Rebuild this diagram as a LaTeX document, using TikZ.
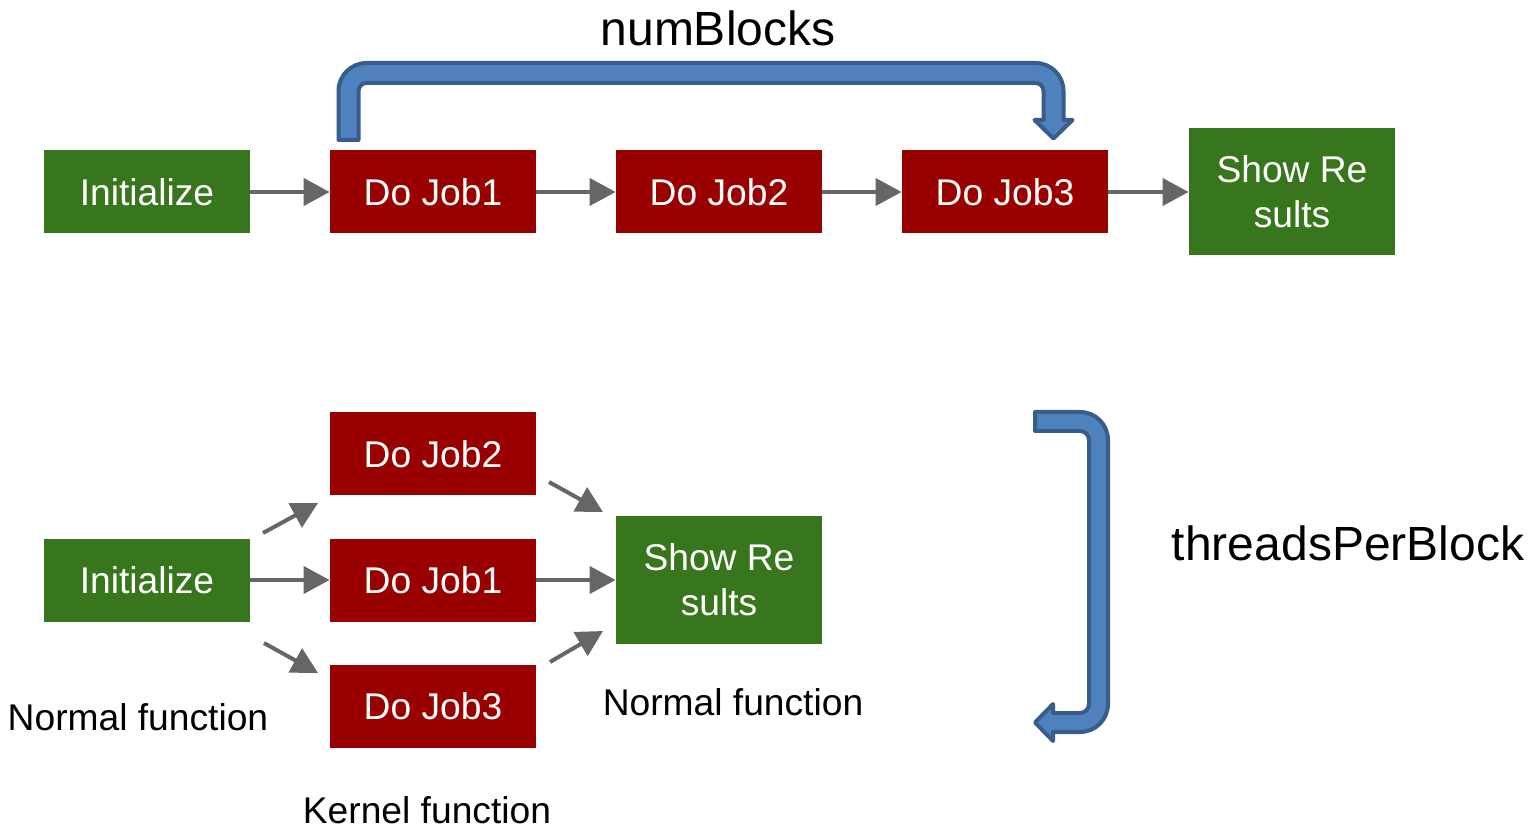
\documentclass[tikz,border=0pt]{standalone}
\usepackage{fontspec}
\setmainfont{Liberation Sans}
\usetikzlibrary{arrows.meta}
\definecolor{boxred}{RGB}{153,0,0}
\definecolor{boxgreen}{RGB}{56,118,29}
\definecolor{arrgray}{RGB}{102,102,102}
\definecolor{bfill}{RGB}{79,129,189}
\definecolor{bline}{RGB}{56,93,138}
\tikzset{
  base/.style={inner sep=0pt, text=white, font=\fontsize{18.6}{22.5}\selectfont, align=center, minimum width=103pt},
  redbox/.style={base, fill=boxred, minimum height=41.5pt},
  greenbox/.style={base, fill=boxgreen, minimum height=41.5pt},
  greentall/.style={base, fill=boxgreen, minimum height=63.5pt},
  flow/.style={draw=arrgray, line width=2pt, -{Triangle[length=13pt,width=13.5pt]}},
  bent/.style={fill=bfill, draw=bline, line width=2pt, line join=round},
  lbl/.style={inner sep=0pt, font=\fontsize{18.6}{22}\selectfont},
  biglbl/.style={inner sep=0pt, font=\fontsize{24}{28}\selectfont}
}
\begin{document}
\begin{tikzpicture}[x=0.5pt,y=0.5pt]
\useasboundingbox (0,0) rectangle (1537,-828);
% top row
\node[greenbox] (ini1) at (147,-192) {Initialize};
\node[redbox] (ja1) at (433,-192) {Do Job1};
\node[redbox] (ja2) at (719,-192) {Do Job2};
\node[redbox] (ja3) at (1005,-192) {Do Job3};
\node[greentall] (res1) at (1292,-192) {Show Re\\sults};
\draw[flow] (ini1.east) -- (ja1.west);
\draw[flow] (ja1.east) -- (ja2.west);
\draw[flow] (ja2.east) -- (ja3.west);
\draw[flow] (ja3.east) -- (res1.west);
% top bent arrow
\draw[bent] (338.5,-140) -- (338.5,-91) arc(180:90:28) -- (1035.5,-63) arc(90:0:28)
  -- (1063.5,-120) -- (1072.5,-120) -- (1053.5,-138.5) -- (1034.5,-120) -- (1043.5,-120)
  -- (1043.5,-91) arc(0:90:8) -- (366.5,-83) arc(90:180:8) -- (358.5,-140) -- cycle;
\node[biglbl] (nb) at (718,-28) {numBlocks};
% bottom
\node[greenbox] (ini2) at (147,-580) {Initialize};
\node[redbox] (jb2) at (433,-454) {Do Job2};
\node[redbox] (jb1) at (433,-580) {Do Job1};
\node[redbox] (jb3) at (433,-706) {Do Job3};
\node[greentall] (res2) at (719,-580) {Show Re\\sults};
\draw[flow] (ini2.east) -- (jb1.west);
\draw[flow] (jb1.east) -- (res2.west);
\coordinate (d1a) at (263,-533); \coordinate (d1b) at (318,-503);
\coordinate (d2a) at (264,-643); \coordinate (d2b) at (318,-673);
\coordinate (d3a) at (549,-482); \coordinate (d3b) at (603,-512);
\coordinate (d4a) at (550,-662); \coordinate (d4b) at (603,-631);
\draw[flow] (d1a) -- (d1b);
\draw[flow] (d2a) -- (d2b);
\draw[flow] (d3a) -- (d3b);
\draw[flow] (d4a) -- (d4b);
% right bent arrow
\draw[bent] (1035,-412) -- (1080,-412) arc(90:0:28) -- (1108,-704) arc(0:-90:28)
  -- (1053,-732) -- (1053,-741) -- (1035,-722.5) -- (1053,-704) -- (1053,-713)
  -- (1080,-713) arc(-90:0:9) -- (1089,-440) arc(0:90:9) -- (1035,-431) -- cycle;
\node[biglbl] (tpb) at (1348,-543) {threadsPerBlock};
\node[lbl] (nf1) at (138,-717) {Normal function};
\node[lbl] (nf2) at (733,-702) {Normal function};
\node[lbl] (kf) at (427,-810) {Kernel function};
\end{tikzpicture}
\end{document}
